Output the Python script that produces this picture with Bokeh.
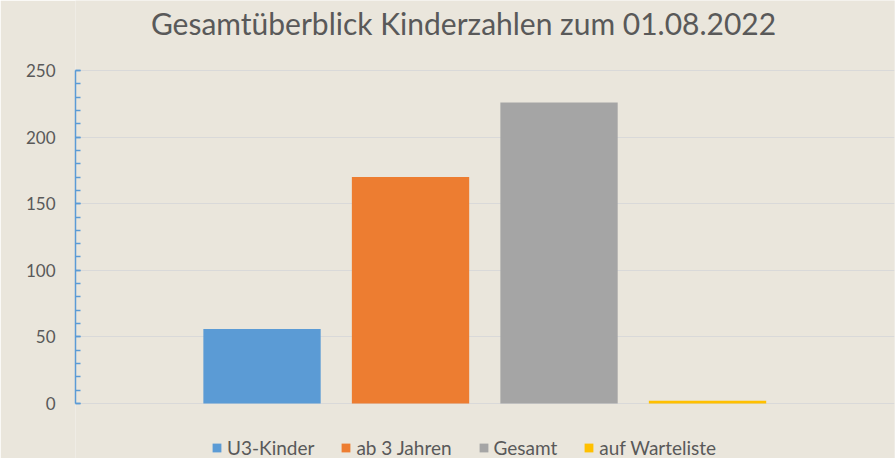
from bokeh.plotting import figure
from bokeh.models import (ColumnDataSource, Range1d, Legend, LegendItem, FixedTicker, Label)
from bokeh.embed import file_html
from bokeh.resources import INLINE

title_text = "Gesamtüberblick Kinderzahlen zum 01.08.2022"
series = ["U3-Kinder", "ab 3 Jahren", "Gesamt", "auf Warteliste"]
values = [56, 170, 226, 2]
colors = ["#5B9BD5", "#ED7D31", "#A5A5A5", "#FFC000"]
y_ticks = [0, 50, 100, 150, 200, 250]
y_minor = list(range(0, 251, 10))
y_min, y_max = 0, 250

BG = "#EAE6DC"
TXT = "#595959"
FONT = "Lato"

W, H = 895, 458
LEFT, RIGHT = 75, 894          # frame edges in px
TOP_PX, ZERO_PX = 70, 403      # pixel rows of y_max and y_min
px_per_unit = (ZERO_PX - TOP_PX) / (y_max - y_min)
y_start = y_min - (H - ZERO_PX) / px_per_unit
y_end = y_max + TOP_PX / px_per_unit
x_start, x_end = -1.256, 4.259

def px_to_x(px):
    return x_start + (px - LEFT) * (x_end - x_start) / (RIGHT - LEFT)

def py_to_y(py):
    return y_max + (TOP_PX - py) / px_per_unit

p = figure(width=W, height=H, output_backend="svg", toolbar_location=None,
           x_range=Range1d(x_start, x_end), y_range=Range1d(y_start, y_end),
           background_fill_color=BG, border_fill_color=BG,
           min_border_left=LEFT, min_border_right=W - RIGHT, min_border_top=0, min_border_bottom=0)
p.outline_line_color = None

items = []
for i, (s, v, c) in enumerate(zip(series, values, colors)):
    src = ColumnDataSource(dict(x=[i], top=[v]))
    r = p.vbar(x="x", top="top", bottom=0, width=0.79, source=src, fill_color=c, line_color=None)
    items.append(LegendItem(label=s, renderers=[r]))

title = Label(x=px_to_x(463), y=py_to_y(22), text=title_text,
              text_align="center", text_baseline="alphabetic",
              text_font=FONT, text_font_size="30px", text_color=TXT)
p.add_layout(title)

p.xaxis.visible = False
p.xgrid.visible = False
p.ygrid.grid_line_color = "#D9D9D9"
p.ygrid.grid_line_width = 1

yax = p.yaxis[0]
yax.bounds = (y_min, y_max)
yax.ticker = FixedTicker(ticks=y_ticks, minor_ticks=y_minor)
yax.axis_line_color = "#5B9BD5"
yax.axis_line_width = 1.5
yax.major_tick_line_color = "#5B9BD5"
yax.minor_tick_line_color = "#5B9BD5"
yax.major_tick_line_width = 1.5
yax.minor_tick_line_width = 1.5
yax.major_tick_in = 5
yax.major_tick_out = 0
yax.minor_tick_in = 5
yax.minor_tick_out = 0
yax.major_label_standoff = 20
yax.major_label_text_font = FONT
yax.major_label_text_font_size = "17px"
yax.major_label_text_color = TXT

legend = Legend(items=items, orientation="horizontal", location=(136, -1),
                background_fill_alpha=0, border_line_color=None,
                label_text_font=FONT, label_text_font_size="19px", label_text_color=TXT,
                glyph_width=11, glyph_height=11, spacing=26, label_standoff=5,
                margin=0, padding=0)
p.add_layout(legend)

open("out.html", "w").write(file_html(p, INLINE))
